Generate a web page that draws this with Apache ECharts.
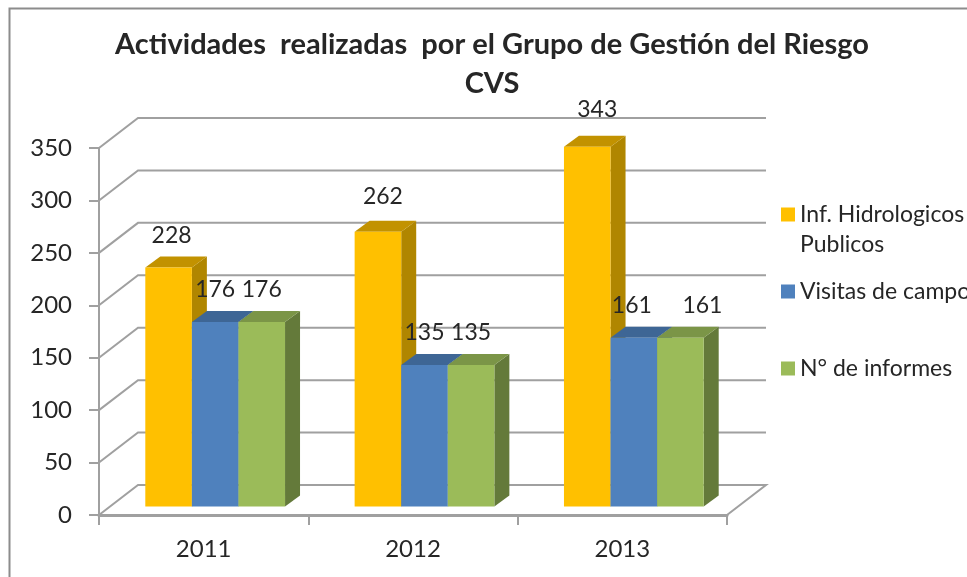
<!DOCTYPE html>
<html>
<head>
<meta charset="utf-8">
<style>html,body{margin:0;padding:0;background:#fff}#c{width:967px;height:577px;filter:blur(0.6px)}</style>
<script src="https://cdn.jsdelivr.net/npm/echarts@6/dist/echarts.min.js"></script>
</head>
<body>
<div id="c"></div>
<script>
const categories = ['2011', '2012', '2013'];
const infHidrologicos = [228, 262, 343];
const visitasCampo = [176, 135, 161];
const numInformes = [176, 135, 161];
const seriesNames = ['Inf. Hidrologicos Publicos', 'Visitas de campo', 'N° de informes'];
const yTicks = [0, 50, 100, 150, 200, 250, 300, 350];

const labelNudgeX = [[3, 5, 10], [0, 0, -2], [0, 0, 22]];
const labelNudgeY = [[0, -3, -5], [0, 0, 0], [0, 0, 0]];
const faceColors = [
  { front: '#FFC000', top: '#C29200', side: '#B08600' },
  { front: '#4F81BD', top: '#3E6695', side: '#3A5F8C' },
  { front: '#9BBB59', top: '#7B9547', side: '#647A3A' }
];
const WALL_DX = 39, WALL_DY = -30, BAR_DX = 15, BAR_DY = -11, PLANE_DX = 11.5, PLANE_DY = -8.5;
const GRID_COLOR = '#A0A0A0';
const TEXT = '#262626';
const FONT = 'Lato, "Open Sans", sans-serif';

function poly(points, fill, z2) {
  return { type: 'polygon', shape: { points }, style: { fill }, z2 };
}

function barSeries(idx, values) {
  const c = faceColors[idx];
  return {
    type: 'custom', name: seriesNames[idx], z: 3, clip: false,
    itemStyle: { color: c.front },
    encode: { x: 0, y: 1 },
    data: values.map((v, i) => [i, v]),
    renderItem(params, api) {
      const cat = api.value(0), val = api.value(1);
      const band = api.size([1, 0])[0];
      const w = band * 0.2225;
      const cx = api.coord([cat, 0])[0] + PLANE_DX + (idx - 1) * w;
      const x0 = cx - w / 2, x1 = cx + w / 2;
      const yb = api.coord([cat, 0])[1] + PLANE_DY;
      const yt = api.coord([cat, val])[1] + PLANE_DY;
      const z = idx + 1;
      return {
        type: 'group',
        children: [
          poly([[x1, yt], [x1 + BAR_DX, yt + BAR_DY], [x1 + BAR_DX, yb + BAR_DY], [x1, yb]], c.side, z),
          poly([[x0, yt], [x0 + BAR_DX, yt + BAR_DY], [x1 + BAR_DX, yt + BAR_DY], [x1, yt]], c.top, z),
          poly([[x0, yt], [x1, yt], [x1, yb], [x0, yb]], c.front, z),
          {
            type: 'text', z2: 50,
            style: {
              text: String(val), x: cx + labelNudgeX[idx][cat], y: yt - 32 + labelNudgeY[idx][cat],
              align: 'center', verticalAlign: 'middle',
              fill: TEXT, font: '23px ' + FONT
            }
          }
        ]
      };
    }
  };
}

const wallSeries = {
  type: 'custom', name: 'wall', z: 1, silent: true, clip: false,
  encode: { x: 0, y: 1 },
  data: yTicks.map(v => [0, v]),
  renderItem(params, api) {
    const v = api.value(1);
    const band = api.size([1, 0])[0];
    const xl = api.coord([0, v])[0] - band / 2;
    const xr = api.coord([2, v])[0] + band / 2;
    const y = api.coord([0, v])[1];
    const pts = [[xl, y], [xl + WALL_DX, y + WALL_DY], [xr + WALL_DX, y + WALL_DY]];
    if (v === 0) pts.push([xr, y]);
    return {
      type: 'polyline', shape: { points: pts },
      style: { stroke: GRID_COLOR, lineWidth: 2, fill: null }
    };
  }
};

const legendCommon = {
  orient: 'vertical', left: 781, icon: 'rect', itemWidth: 14, itemHeight: 14, itemGap: 0,
  padding: 0, selectedMode: false,
  textStyle: { fontFamily: FONT, fontSize: 23, color: TEXT }
};

const chart = echarts.init(document.getElementById('c'), null, { renderer: 'canvas' });
chart.setOption({
  animation: false,
  backgroundColor: '#fff',
  title: {
    text: 'Actividades  realizadas  por el Grupo de Gestión del Riesgo\nCVS',
    left: 487, top: 20, textAlign: 'center',
    textStyle: { fontFamily: FONT, fontSize: 29, fontWeight: 'bold', color: TEXT, lineHeight: 39 }
  },
  legend: [
    Object.assign({}, legendCommon, { top: 203, data: [seriesNames[0]], formatter: () => 'Inf. Hidrologicos' }),
    Object.assign({}, legendCommon, { top: 280, data: [seriesNames[1]] }),
    Object.assign({}, legendCommon, { top: 357, data: [seriesNames[2]] })
  ],
  grid: { left: 99, top: 148, width: 628, height: 367 },
  xAxis: {
    type: 'category', data: categories,
    axisLine: { lineStyle: { color: GRID_COLOR, width: 3 } },
    axisTick: { show: true, length: 10, lineStyle: { color: GRID_COLOR, width: 2 } },
    axisLabel: { fontFamily: FONT, fontSize: 24, color: TEXT, margin: 22 }
  },
  yAxis: {
    type: 'value', min: 0, max: 350, interval: 50,
    axisLine: { show: true, lineStyle: { color: GRID_COLOR, width: 2 } },
    axisTick: { show: true, length: 10, lineStyle: { color: GRID_COLOR, width: 2 } },
    splitLine: { show: false },
    axisLabel: { fontFamily: FONT, fontSize: 24, color: TEXT, margin: 27 }
  },
  graphic: [
    { type: 'polyline', shape: { points: [[9.5, 577], [9.5, 8.5], [967, 8.5]] }, style: { stroke: '#8C8C8C', lineWidth: 2, fill: null }, silent: true },
    { type: 'text', left: 800, top: 233, style: { text: 'Publicos', fill: TEXT, font: '23px ' + FONT }, silent: true }
  ],
  series: [wallSeries, barSeries(0, infHidrologicos), barSeries(1, visitasCampo), barSeries(2, numInformes)]
});
</script>
</body>
</html>
